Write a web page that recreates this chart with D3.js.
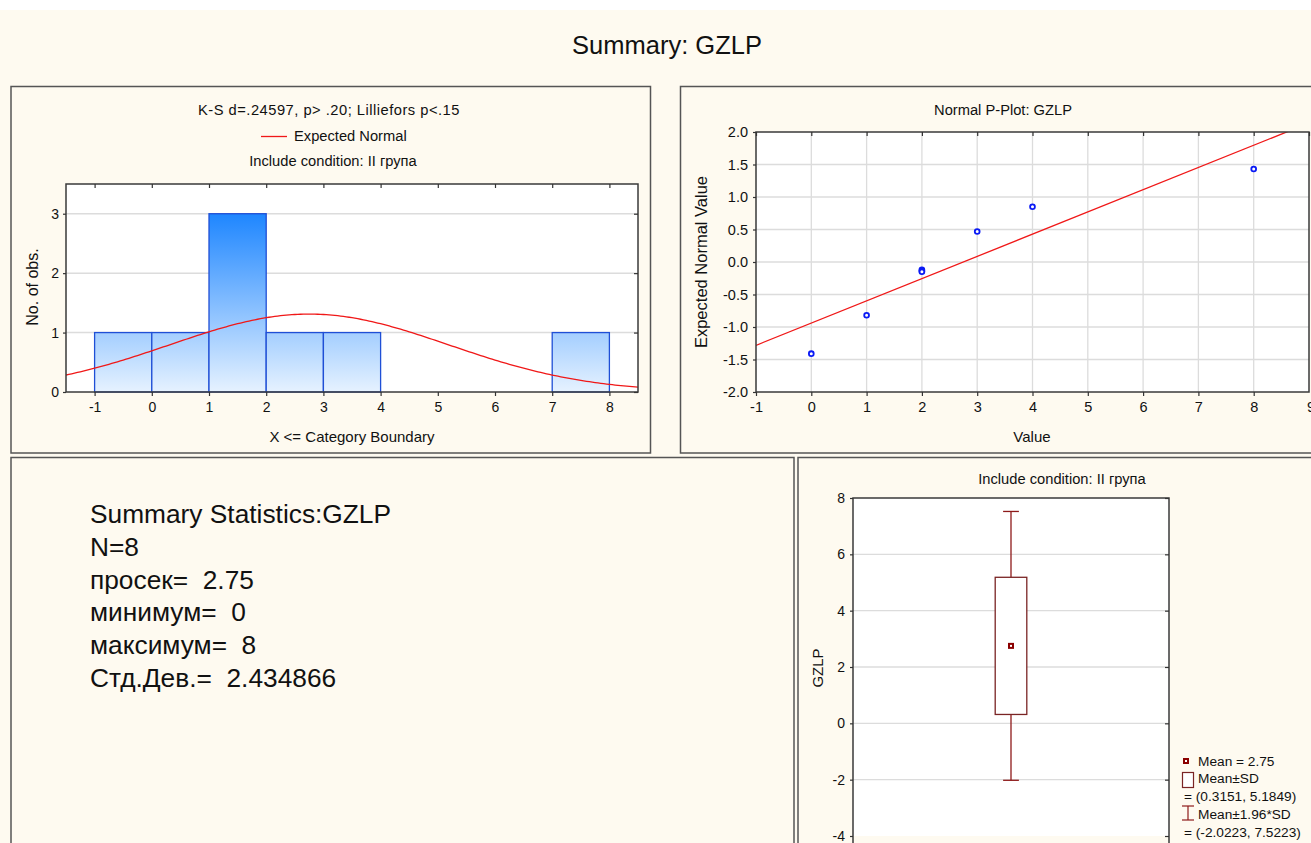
<!DOCTYPE html>
<html>
<head>
<meta charset="utf-8">
<script src="https://cdn.jsdelivr.net/npm/d3@7"></script>
<style>
  html, body { margin: 0; padding: 0; background: #FEFAF0; }
  svg { display: block; font-family: "Liberation Sans", Arial, sans-serif; }
  text { fill: #111; }
</style>
</head>
<body>
<svg id="chart" width="1311" height="843"></svg>
<script>
// ---- GZLP, group II ----
const statN = 8;
const statMean = 2.75;
const statMin = 0;
const statMax = 8;
const statSD = 2.434866;

// Histogram: upper category boundaries (X <= boundary) and counts
const binUpper = [0, 1, 2, 3, 4, 5, 6, 7, 8];
const binCounts = [1, 1, 3, 1, 1, 0, 0, 0, 1];
const binWidth = 1;
const histXTicks = [-1, 0, 1, 2, 3, 4, 5, 6, 7, 8];
const histYTicks = [0, 1, 2, 3];

// Normal probability plot
const ppValues = [0, 1, 2, 2, 2, 3, 4, 8];
const ppExpected = [-1.41, -0.82, -0.12, -0.14, -0.15, 0.47, 0.85, 1.43];
const ppFitIntercept = -0.94;
const ppFitSlope = 0.342;
const ppXTicks = [-1, 0, 1, 2, 3, 4, 5, 6, 7, 8, 9];
const ppYTicks = [-2, -1.5, -1, -0.5, 0, 0.5, 1, 1.5, 2];

// Mean / SD box
const boxMean = 2.75;
const boxSD = [0.3151, 5.1849];
const boxSD196 = [-2.0223, 7.5223];
const boxYTicks = [-4, -2, 0, 2, 4, 6, 8];

const svg = d3.select("#chart");

// white strip along the top, cream page below
svg.append("rect").attr("x", 0).attr("y", 0).attr("width", 1311).attr("height", 10).attr("fill", "#ffffff");

svg.append("text").attr("x", 667).attr("y", 54).attr("text-anchor", "middle")
  .attr("font-size", 25.5).text("Summary: GZLP");

// panel frames
function panel(x, y, w, h) {
  svg.append("rect").attr("x", x).attr("y", y).attr("width", w).attr("height", h)
    .attr("fill", "#FEFAF0").attr("stroke", "#555").attr("stroke-width", 1.5);
}
panel(11, 86.5, 639.5, 366.5);
panel(680.5, 86.5, 640, 366.5);
panel(11, 457.5, 783, 400);
panel(798, 457.5, 520, 400);

const gridColor = "#dcdcdc";
const frameColor = "#3a3a3a";
const smallFont = 14.7;

function plotBox(x0, y0, x1, y1) {
  svg.append("rect").attr("x", x0).attr("y", y0).attr("width", x1 - x0).attr("height", y1 - y0)
    .attr("fill", "#ffffff");
}
function frame(x0, y0, x1, y1) {
  svg.append("rect").attr("x", x0).attr("y", y0).attr("width", x1 - x0).attr("height", y1 - y0)
    .attr("fill", "none").attr("stroke", frameColor).attr("stroke-width", 1.5);
}
function styleAxis(g, size) {
  g.select(".domain").remove();
  g.selectAll(".tick line").attr("stroke", "#333").attr("stroke-width", 1.2);
  g.selectAll(".tick text").attr("font-size", size).attr("fill", "#111")
    .attr("font-family", "Liberation Sans, Arial, sans-serif");
}

// ================= Histogram =================
{
  const L = 66, R = 638, T = 184, B = 392;
  const x = d3.scaleLinear().domain([-1.5, 8.5]).range([L, R]);
  const y = d3.scaleLinear().domain([0, 3.5]).range([B, T]);

  const defs = svg.append("defs");
  const grad = defs.append("linearGradient").attr("id", "barFill")
    .attr("gradientUnits", "userSpaceOnUse")
    .attr("x1", 0).attr("x2", 0).attr("y1", y(3)).attr("y2", y(0));
  grad.append("stop").attr("offset", 0).attr("stop-color", "#1E86FF");
  grad.append("stop").attr("offset", 1).attr("stop-color", "#E6F2FF");

  defs.append("clipPath").attr("id", "histClip").append("rect")
    .attr("x", L).attr("y", T).attr("width", R - L).attr("height", B - T);

  plotBox(L, T, R, B);

  svg.append("g").selectAll("line").data(histYTicks.filter(d => d > 0)).join("line")
    .attr("x1", L).attr("x2", R).attr("y1", d => y(d)).attr("y2", d => y(d))
    .attr("stroke", gridColor).attr("stroke-width", 1.5);

  svg.append("g").selectAll("rect").data(binUpper).join("rect")
    .attr("x", d => x(d - binWidth))
    .attr("width", d => x(d) - x(d - binWidth))
    .attr("y", (d, i) => y(binCounts[i]))
    .attr("height", (d, i) => y(0) - y(binCounts[i]))
    .attr("fill", "url(#barFill)")
    .attr("stroke", "#1F4FD6").attr("stroke-width", 1.3);

  // expected normal curve scaled to counts
  const xs = d3.range(-1.5, 8.5001, 0.05);
  const dens = v => statN * binWidth * Math.exp(-0.5 * ((v - statMean) / statSD) ** 2) / (statSD * Math.sqrt(2 * Math.PI));
  svg.append("path").datum(xs)
    .attr("clip-path", "url(#histClip)")
    .attr("d", d3.line().x(d => x(d)).y(d => y(dens(d))))
    .attr("fill", "none").attr("stroke", "#F01818").attr("stroke-width", 1.3);

  frame(L, T, R, B);

  const fmt = d => String(d);
  styleAxis(svg.append("g").attr("transform", `translate(0,${B})`)
    .call(d3.axisBottom(x).tickValues(histXTicks).tickFormat(fmt).tickSize(4).tickPadding(6)), 14);
  styleAxis(svg.append("g").attr("transform", `translate(0,${T})`)
    .call(d3.axisTop(x).tickValues(histXTicks).tickFormat("").tickSize(-4)), 14);
  styleAxis(svg.append("g").attr("transform", `translate(${L},0)`)
    .call(d3.axisLeft(y).tickValues(histYTicks).tickFormat(fmt).tickSize(3).tickPadding(4)), 14);
  styleAxis(svg.append("g").attr("transform", `translate(${R},0)`)
    .call(d3.axisRight(y).tickValues(histYTicks).tickFormat("").tickSize(-4)), 14);

  svg.append("text").attr("x", 329).attr("y", 115).attr("text-anchor", "middle")
    .attr("font-size", smallFont).attr("letter-spacing", 0.5)
    .text("K-S d=.24597, p> .20; Lilliefors p<.15");
  svg.append("line").attr("x1", 261).attr("x2", 287).attr("y1", 136.5).attr("y2", 136.5)
    .attr("stroke", "#F01818").attr("stroke-width", 1.3);
  svg.append("text").attr("x", 294).attr("y", 141)
    .attr("font-size", smallFont).text("Expected Normal");
  svg.append("text").attr("x", 333).attr("y", 166).attr("text-anchor", "middle")
    .attr("font-size", smallFont).text("Include condition: II група");

  svg.append("text").attr("transform", `translate(38,287) rotate(-90)`).attr("text-anchor", "middle")
    .attr("font-size", 16).text("No. of obs.");
  svg.append("text").attr("x", 352).attr("y", 442).attr("text-anchor", "middle")
    .attr("font-size", 15).text("X <= Category Boundary");
}

// ================= Normal P-Plot =================
{
  const L = 756, R = 1309, T = 132, B = 392;
  const x = d3.scaleLinear().domain([-1, 9]).range([L, R]);
  const y = d3.scaleLinear().domain([-2, 2]).range([B, T]);

  svg.select("defs").append("clipPath").attr("id", "ppClip").append("rect")
    .attr("x", L).attr("y", T).attr("width", R - L).attr("height", B - T);

  plotBox(L, T, R, B);

  svg.append("g").selectAll("line").data(ppXTicks.slice(1, -1)).join("line")
    .attr("x1", d => x(d)).attr("x2", d => x(d)).attr("y1", T).attr("y2", B)
    .attr("stroke", gridColor).attr("stroke-width", 1.3);
  svg.append("g").selectAll("line").data(ppYTicks.slice(1, -1)).join("line")
    .attr("x1", L).attr("x2", R).attr("y1", d => y(d)).attr("y2", d => y(d))
    .attr("stroke", gridColor).attr("stroke-width", 1.3);

  const fitX = [-1, 9];
  svg.append("path").datum(fitX)
    .attr("clip-path", "url(#ppClip)")
    .attr("d", d3.line().x(d => x(d)).y(d => y(ppFitIntercept + ppFitSlope * d)))
    .attr("fill", "none").attr("stroke", "#F01818").attr("stroke-width", 1.3);

  svg.append("g").selectAll("circle").data(ppValues).join("circle")
    .attr("cx", d => x(d)).attr("cy", (d, i) => y(ppExpected[i]))
    .attr("r", 2.4).attr("fill", "#ffffff").attr("stroke", "#0A1AF5").attr("stroke-width", 1.8);

  frame(L, T, R, B);

  styleAxis(svg.append("g").attr("transform", `translate(0,${B})`)
    .call(d3.axisBottom(x).tickValues(ppXTicks.slice(0, -1)).tickFormat(d => String(d)).tickSize(4).tickPadding(6)), 14.5);
  styleAxis(svg.append("g").attr("transform", `translate(0,${T})`)
    .call(d3.axisTop(x).tickValues(ppXTicks).tickFormat("").tickSize(-4)), 14);
  styleAxis(svg.append("g").attr("transform", `translate(${L},0)`)
    .call(d3.axisLeft(y).tickValues(ppYTicks).tickFormat(d => d.toFixed(1)).tickSize(3).tickPadding(5)), 14.5);
  // last x label sits against the right edge of the page
  svg.append("text").attr("x", x(9) - 2).attr("y", B + 20).attr("font-size", 14.5)
    .text(String(ppXTicks[ppXTicks.length - 1]));

  svg.append("text").attr("x", 1003).attr("y", 115).attr("text-anchor", "middle")
    .attr("font-size", smallFont).text("Normal P-Plot: GZLP");
  svg.append("text").attr("transform", `translate(707,262) rotate(-90)`).attr("text-anchor", "middle")
    .attr("font-size", 16.5).text("Expected Normal Value");
  svg.append("text").attr("x", 1032).attr("y", 442).attr("text-anchor", "middle")
    .attr("font-size", 15).text("Value");
}

// ================= Summary statistics text =================
{
  const lines = [
    "Summary Statistics:GZLP",
    `N=${statN}`,
    `просек=  ${statMean}`,
    `минимум=  ${statMin}`,
    `максимум=  ${statMax}`,
    `Стд.Дев.=  ${statSD}`
  ];
  svg.append("g").selectAll("text").data(lines).join("text")
    .attr("x", 90).attr("y", (d, i) => 523 + i * 32.8)
    .attr("font-size", 26.3).style("white-space", "pre").text(d => d);
}

// ================= Mean / SD box plot =================
{
  const L = 853, R = 1169, T = 498, B = 836;
  const y = d3.scaleLinear().domain([-4, 8]).range([B, T]);
  const x = d3.scaleBand().domain(["GZLP"]).range([L, R]);
  const cx = x("GZLP") + x.bandwidth() / 2;
  const boxW = x.bandwidth() * 0.1;
  const capW = boxW / 2;
  const red = "#8E1A1A";

  plotBox(L, T, R, B);
  svg.append("g").selectAll("line").data(boxYTicks.slice(1, -1)).join("line")
    .attr("x1", L).attr("x2", R).attr("y1", d => y(d)).attr("y2", d => y(d))
    .attr("stroke", gridColor).attr("stroke-width", 1.3);

  // whiskers: mean ± 1.96*SD
  svg.append("line").attr("x1", cx).attr("x2", cx).attr("y1", y(boxSD196[0])).attr("y2", y(boxSD196[1]))
    .attr("stroke", red).attr("stroke-width", 1.3);
  svg.append("g").selectAll("line").data(boxSD196).join("line")
    .attr("x1", cx - capW / 2).attr("x2", cx + capW / 2).attr("y1", d => y(d)).attr("y2", d => y(d))
    .attr("stroke", red).attr("stroke-width", 1.3);

  // box: mean ± SD
  svg.append("rect").attr("x", cx - boxW / 2).attr("width", boxW)
    .attr("y", y(boxSD[1])).attr("height", y(boxSD[0]) - y(boxSD[1]))
    .attr("fill", "#ffffff").attr("stroke", "#7A2424").attr("stroke-width", 1.3);

  // mean marker
  svg.append("rect").attr("x", cx - 3).attr("y", y(boxMean) - 3).attr("width", 6).attr("height", 6)
    .attr("fill", "#8B0000");
  svg.append("rect").attr("x", cx - 1).attr("y", y(boxMean) - 1).attr("width", 2).attr("height", 2)
    .attr("fill", "#ffffff");

  frame(L, T, R, B + 20);

  styleAxis(svg.append("g").attr("transform", `translate(${L},0)`)
    .call(d3.axisLeft(y).tickValues(boxYTicks).tickFormat(d => String(d)).tickSize(3).tickPadding(5)), 14);
  styleAxis(svg.append("g").attr("transform", `translate(${R},0)`)
    .call(d3.axisRight(y).tickValues(boxYTicks).tickFormat("").tickSize(-4)), 14);

  svg.append("text").attr("x", 1062).attr("y", 484).attr("text-anchor", "middle")
    .attr("font-size", smallFont).text("Include condition: II група");
  svg.append("text").attr("transform", `translate(823,668) rotate(-90)`).attr("text-anchor", "middle")
    .attr("font-size", 15).text("GZLP");

  // legend
  const lg = svg.append("g").attr("font-size", 13.7);
  lg.append("rect").attr("x", 1183).attr("y", 758).attr("width", 6).attr("height", 6).attr("fill", "#8B0000");
  lg.append("rect").attr("x", 1185).attr("y", 760).attr("width", 2).attr("height", 2).attr("fill", "#ffffff");
  lg.append("text").attr("x", 1198).attr("y", 766).text(`Mean = ${boxMean}`);
  lg.append("rect").attr("x", 1182.5).attr("y", 772.5).attr("width", 11).attr("height", 15)
    .attr("fill", "#ffffff").attr("stroke", "#7A2424").attr("stroke-width", 1.2);
  lg.append("text").attr("x", 1198).attr("y", 783).text("Mean±SD");
  lg.append("text").attr("x", 1184).attr("y", 801).text(`= (${boxSD[0]}, ${boxSD[1]})`);
  lg.append("line").attr("x1", 1188).attr("x2", 1188).attr("y1", 806).attr("y2", 820).attr("stroke", red).attr("stroke-width", 1.2);
  lg.append("line").attr("x1", 1182).attr("x2", 1194).attr("y1", 806).attr("y2", 806).attr("stroke", red).attr("stroke-width", 1.2);
  lg.append("line").attr("x1", 1182).attr("x2", 1194).attr("y1", 820).attr("y2", 820).attr("stroke", red).attr("stroke-width", 1.2);
  lg.append("text").attr("x", 1198).attr("y", 819).text("Mean±1.96*SD");
  lg.append("text").attr("x", 1184).attr("y", 837).text(`= (${boxSD196[0]}, ${boxSD196[1]})`);
}
</script>
</body>
</html>
